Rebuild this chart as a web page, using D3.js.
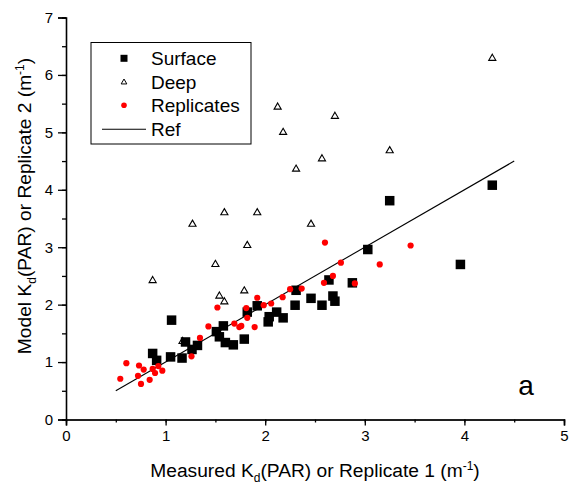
<!DOCTYPE html>
<html><head><meta charset="utf-8">
<script src="https://cdn.jsdelivr.net/npm/d3@7"></script>
<style>body{margin:0;background:#fff}svg{display:block;font-family:"Liberation Sans",Arial,sans-serif}</style>
</head><body><div id="chart"></div>
<script>
// Surface: [measured, model]
const surfaceX = [0.87,0.91,1.05,1.06,1.165,1.20,1.265,1.32,1.51,1.54,1.58,1.60,1.68,1.79,1.82,1.92,2.03,2.04,2.115,2.18,2.30,2.31,2.46,2.57,2.64,2.68,2.70,2.875,3.03,3.25,3.96,4.28];
const surfaceY = [1.15,1.03,1.09,1.73,1.07,1.35,1.22,1.29,1.53,1.44,1.63,1.34,1.30,1.40,1.87,1.98,1.70,1.79,1.87,1.77,1.99,2.25,2.11,1.99,2.43,2.15,2.06,2.38,2.96,3.81,2.70,4.08];
const deepX = [0.87,1.17,1.27,1.50,1.54,1.59,1.59,1.79,1.82,1.92,2.125,2.18,2.31,2.46,2.57,2.70,3.25,4.28];
const deepY = [2.42,1.36,3.40,2.70,2.15,2.05,3.60,2.24,3.03,3.60,5.44,5.00,4.36,3.40,4.54,5.28,4.68,6.29];
const repX = [0.545,0.606,0.723,0.733,0.753,0.78,0.84,0.87,0.894,0.927,0.967,1.26,1.345,1.43,1.52,1.69,1.74,1.76,1.81,1.82,1.894,1.92,1.985,2.06,2.175,2.25,2.366,2.59,2.60,2.68,2.76,2.90,3.15,3.46];
const repY = [0.71,0.98,0.76,0.94,0.62,0.87,0.69,0.88,0.81,0.93,0.85,1.10,1.42,1.62,1.95,1.67,1.61,1.63,1.94,1.77,1.61,2.12,1.99,2.02,2.13,2.27,2.28,2.38,3.08,2.50,2.73,2.37,2.70,3.03];
const refX = [0.5,4.5];
const refY = [0.5,4.5];
const xTicks = [0,1,2,3,4,5];
const yTicks = [0,1,2,3,4,5,6,7];
const legendLabels = ["Surface","Deep","Replicates","Ref"];

const W=569,H=487;
const svg=d3.select("#chart").append("svg").attr("width",W).attr("height",H);
const x=d3.scaleLinear().domain([0,5]).range([66,564]);
const y=d3.scaleLinear().domain([0,7]).range([419.5,17.5]);

// axes
const xMinor=d3.range(0,5.01,0.5), yMinor=d3.range(0,7.01,0.5);
const gx=svg.append("g").attr("transform","translate(0,419.5)");
gx.call(d3.axisBottom(x).tickValues(xMinor).tickSize(3).tickFormat(""));
gx.call(g=>g.selectAll(".tick line").attr("stroke-width",1.3));
const gx2=svg.append("g").attr("transform","translate(0,419.5)");
gx2.call(d3.axisBottom(x).tickValues(xTicks).tickSize(6).tickPadding(5).tickFormat(d3.format("d")));
gx2.selectAll(".domain").attr("stroke-width",1.6);
gx2.selectAll(".tick line").attr("stroke-width",1.3);
gx2.selectAll("text").attr("font-size",15).attr("font-family","Liberation Sans, Arial").attr("fill","#000");

const gy=svg.append("g").attr("transform","translate(66,0)");
gy.call(d3.axisLeft(y).tickValues(yMinor).tickSize(4).tickFormat(""));
gy.selectAll(".tick line").attr("stroke-width",1.3);
const gy2=svg.append("g").attr("transform","translate(66,0)");
gy2.call(d3.axisLeft(y).tickValues(yTicks).tickSize(8).tickPadding(5).tickFormat(d3.format("d")));
gy2.selectAll(".domain").attr("stroke-width",1.6);
gy2.selectAll(".tick line").attr("stroke-width",1.3);
gy2.selectAll("text").attr("font-size",15).attr("font-family","Liberation Sans, Arial").attr("fill","#000");

// axis titles
const xt=svg.append("text").attr("x",315).attr("y",477).attr("text-anchor","middle").attr("font-size",19.2);
xt.append("tspan").text("Measured K");
xt.append("tspan").attr("font-size",12).attr("dy",4.5).text("d");
xt.append("tspan").attr("dy",-4.5).text("(PAR) or Replicate 1 (m");
xt.append("tspan").attr("font-size",12).attr("dy",-7.5).text("-1");
xt.append("tspan").attr("dy",7.5).text(")");

const yt=svg.append("text").attr("transform","translate(31,206) rotate(-90)").attr("text-anchor","middle").attr("font-size",19.2);
yt.append("tspan").text("Model K");
yt.append("tspan").attr("font-size",12).attr("dy",4.5).text("d");
yt.append("tspan").attr("dy",-4.5).text("(PAR) or Replicate 2 (m");
yt.append("tspan").attr("font-size",12).attr("dy",-7.5).text("-1");
yt.append("tspan").attr("dy",7.5).text(")");

// reference line
svg.append("line").attr("x1",x(refX[0])).attr("y1",y(refY[0])).attr("x2",x(refX[1])).attr("y2",y(refY[1]))
  .attr("stroke","#000").attr("stroke-width",1.1);

const tri=d3.symbol().type(d3.symbolTriangle).size(22);
// deep
svg.append("g").selectAll("path").data(deepX.map((v,i)=>[v,deepY[i]])).join("path")
  .attr("d",tri).attr("transform",d=>`translate(${x(d[0])},${y(d[1])})`)
  .attr("fill","#fff").attr("stroke","#000").attr("stroke-width",1.1);
// surface
const sq=9.5;
svg.append("g").selectAll("rect").data(surfaceX.map((v,i)=>[v,surfaceY[i]])).join("rect")
  .attr("x",d=>x(d[0])-sq/2).attr("y",d=>y(d[1])-sq/2).attr("width",sq).attr("height",sq).attr("fill","#000");
// replicates
svg.append("g").selectAll("circle").data(repX.map((v,i)=>[v,repY[i]])).join("circle")
  .attr("cx",d=>x(d[0])).attr("cy",d=>y(d[1])).attr("r",3.1).attr("fill","#ff0000");

// legend
const lg=svg.append("g");
lg.append("rect").attr("x",91).attr("y",42.5).attr("width",160).attr("height",101.5).attr("fill","#fff").attr("stroke","#000").attr("stroke-width",1);
const ly=[58.3,82.3,105.3,129.3];
lg.append("rect").attr("x",124-3.5).attr("y",ly[0]-3.5).attr("width",7).attr("height",7).attr("fill","#000");
lg.append("path").attr("d",d3.symbol().type(d3.symbolTriangle).size(14)).attr("transform",`translate(124,${ly[1]})`).attr("fill","#fff").attr("stroke","#000").attr("stroke-width",1);
lg.append("circle").attr("cx",124).attr("cy",ly[2]).attr("r",2.8).attr("fill","#ff0000");
lg.append("line").attr("x1",102).attr("x2",146).attr("y1",ly[3]).attr("y2",ly[3]).attr("stroke","#000").attr("stroke-width",1.1);
lg.selectAll("text.l").data(legendLabels).join("text").attr("class","l")
  .attr("x",151).attr("y",(d,i)=>ly[i]).attr("dy","0.36em").attr("font-size",19).text(d=>d);

svg.append("text").attr("x",526).attr("y",395).attr("text-anchor","middle").attr("font-size",28).text("a");
</script></body></html>
